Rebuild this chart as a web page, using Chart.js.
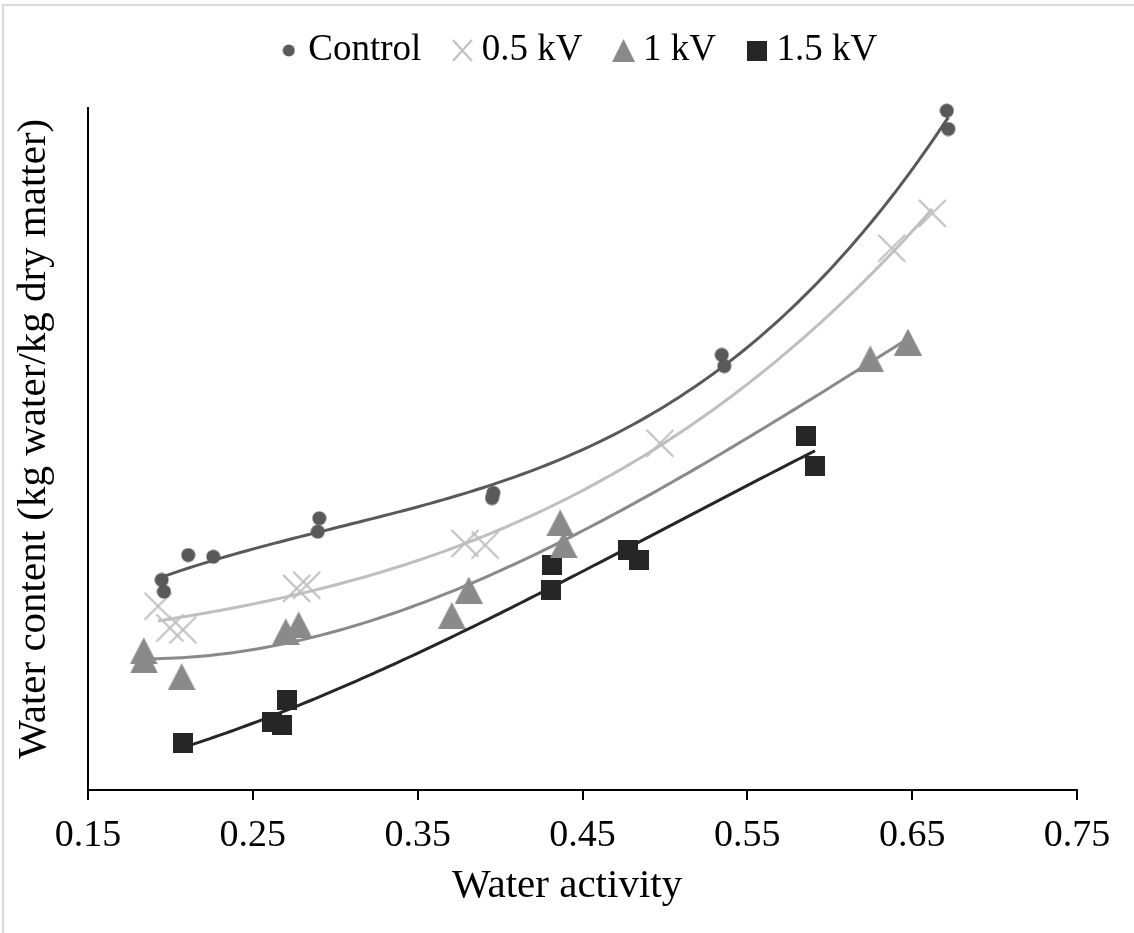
<!DOCTYPE html>
<html>
<head>
<meta charset="utf-8">
<script src="https://cdn.jsdelivr.net/npm/chart.js@4.4.1/dist/chart.umd.min.js"></script>
<style>
  html, body { margin: 0; padding: 0; background: #fff; }
  #wrap { position: relative; width: 1134px; height: 933px; }
</style>
</head>
<body>
<div id="wrap"><canvas id="grafico" width="1134" height="933"></canvas></div>
<script>
// Datos (eje Y sin escala visible, unidades relativas)
const controlX = [0.1947, 0.1961, 0.2108, 0.2260, 0.2894, 0.2903, 0.3951, 0.3959, 0.5345, 0.5360, 0.6710, 0.6719];
const controlY = [0.0770, 0.0727, 0.0861, 0.0855, 0.0947, 0.0996, 0.1070, 0.1089, 0.1595, 0.1554, 0.2490, 0.2423];

const kv05X = [0.1925, 0.1997, 0.2076, 0.2766, 0.2827, 0.3787, 0.3909, 0.4970, 0.6376, 0.6622];
const kv05Y = [0.0674, 0.0594, 0.0587, 0.0739, 0.0751, 0.0904, 0.0898, 0.1271, 0.1986, 0.2114];

const kv1X = [0.1838, 0.1840, 0.2068, 0.2700, 0.2778, 0.3707, 0.3810, 0.4365, 0.4386, 0.6246, 0.6474];
const kv1Y = [0.0510, 0.0477, 0.0415, 0.0580, 0.0605, 0.0639, 0.0733, 0.0979, 0.0899, 0.1580, 0.1642];

const kv15X = [0.2076, 0.2615, 0.2675, 0.2706, 0.4307, 0.4313, 0.4778, 0.4845, 0.5856, 0.5911];
const kv15Y = [0.0172, 0.0250, 0.0238, 0.0330, 0.0733, 0.0825, 0.0880, 0.0843, 0.1299, 0.1188];

const xTicks = [0.15, 0.25, 0.35, 0.45, 0.55, 0.65, 0.75];
const seriesNames = ['Control', '0.5 kV', '1 kV', '1.5 kV'];
const seriesColors = ['#595959', '#bfbfbf', '#8a8a8a', '#262626'];

const FUENTE = "'Liberation Serif', 'Times New Roman', serif";

// Marcadores dibujados en canvas pequeños
function hacerMarcador(tipo, w, h, color) {
  const c = document.createElement('canvas');
  c.width = w; c.height = h;
  const g = c.getContext('2d');
  g.fillStyle = color;
  g.strokeStyle = color;
  if (tipo === 'circle') {
    g.beginPath(); g.arc(w / 2, h / 2, w / 2 - 0.5, 0, Math.PI * 2); g.fill();
  } else if (tipo === 'cross') {
    g.lineWidth = 2;
    g.beginPath();
    g.moveTo(1, 1); g.lineTo(w - 1, h - 1);
    g.moveTo(w - 1, 1); g.lineTo(1, h - 1);
    g.stroke();
  } else if (tipo === 'triangle') {
    g.beginPath(); g.moveTo(w / 2, 0); g.lineTo(w, h); g.lineTo(0, h); g.closePath(); g.fill();
  } else {
    g.fillRect(0, 0, w, h);
  }
  return c;
}

const marcadores = [
  hacerMarcador('circle', 15, 15, seriesColors[0]),
  hacerMarcador('cross', 29, 29, seriesColors[1]),
  hacerMarcador('triangle', 28, 27, seriesColors[2]),
  hacerMarcador('square', 20, 20, seriesColors[3])
];
const marcadoresLeyenda = [
  hacerMarcador('circle', 13, 13, seriesColors[0]),
  hacerMarcador('cross', 21, 23, seriesColors[1]),
  hacerMarcador('triangle', 23, 23, seriesColors[2]),
  hacerMarcador('square', 20, 20, seriesColors[3])
];

// Línea de tendencia polinómica de orden 3 (mínimos cuadrados)
function ajusteCubico(xs, ys) {
  const n = 4;
  const A = Array.from({ length: n }, () => new Array(n + 1).fill(0));
  xs.forEach((x, k) => {
    for (let i = 0; i < n; i++) {
      for (let j = 0; j < n; j++) A[i][j] += Math.pow(x, i + j);
      A[i][n] += ys[k] * Math.pow(x, i);
    }
  });
  for (let i = 0; i < n; i++) {
    let p = i;
    for (let r = i + 1; r < n; r++) if (Math.abs(A[r][i]) > Math.abs(A[p][i])) p = r;
    [A[i], A[p]] = [A[p], A[i]];
    for (let r = 0; r < n; r++) {
      if (r === i) continue;
      const f = A[r][i] / A[i][i];
      for (let c = i; c <= n; c++) A[r][c] -= f * A[i][c];
    }
  }
  return A.map((fila, i) => fila[n] / fila[i]);
}

function tendencia(xs, ys) {
  const coef = ajusteCubico(xs, ys);
  const x0 = Math.min(...xs), x1 = Math.max(...xs);
  const puntos = [];
  for (let i = 0; i <= 120; i++) {
    const x = x0 + (x1 - x0) * i / 120;
    puntos.push({ x, y: coef[0] + coef[1] * x + coef[2] * x * x + coef[3] * x * x * x });
  }
  return puntos;
}

const seriesX = [controlX, kv05X, kv1X, kv15X];
const seriesY = [controlY, kv05Y, kv1Y, kv15Y];

const datasetsPuntos = seriesNames.map((nombre, i) => ({
  label: nombre,
  data: seriesX[i].map((x, k) => ({ x, y: seriesY[i][k] })),
  pointStyle: marcadores[i],
  pointRadius: 10,
  backgroundColor: seriesColors[i],
  borderColor: seriesColors[i],
  showLine: false,
  clip: false,
  order: 1
}));

const datasetsTendencia = seriesNames.map((nombre, i) => ({
  label: nombre + ' (tendencia)',
  data: tendencia(seriesX[i], seriesY[i]),
  showLine: true,
  pointRadius: 0,
  borderColor: seriesColors[i],
  borderWidth: 3,
  fill: false,
  tension: 0,
  clip: false,
  order: 0
}));

// Fondo blanco y marco gris claro
const fondo = {
  id: 'fondo',
  beforeDraw(chart) {
    const ctx = chart.ctx;
    ctx.save();
    ctx.fillStyle = '#fff';
    ctx.fillRect(0, 0, chart.width, chart.height);
    ctx.strokeStyle = '#d9d9d9';
    ctx.lineWidth = 2;
    ctx.beginPath();
    ctx.moveTo(3, chart.height);
    ctx.lineTo(3, 5);
    ctx.lineTo(chart.width, 5);
    ctx.stroke();
    ctx.restore();
  }
};

Chart.defaults.font.family = FUENTE;
Chart.defaults.color = '#000';

// espacios duros para desplazar los títulos de eje como en el original
const NB = '\u00a0';

new Chart(document.getElementById('grafico'), {
  type: 'scatter',
  data: { datasets: [...datasetsTendencia, ...datasetsPuntos] },
  plugins: [fondo],
  options: {
    responsive: false,
    animation: false,
    layout: { padding: { top: -8, right: 57, bottom: 0, left: 0 } },
    plugins: {
      tooltip: { enabled: false },
      title: {
        display: true,
        text: '',
        fullSize: false,
        weight: 500,
        font: { size: 10, lineHeight: 1.2 },
        padding: { top: 0, bottom: 17 }
      },
      legend: {
        fullSize: false,
        labels: {
          usePointStyle: true,
          boxWidth: 2,
          boxHeight: 37,
          padding: 40,
          font: { size: 37 },
          color: '#000',
          generateLabels: () => seriesNames.map((nombre, i) => ({
            text: nombre,
            pointStyle: marcadoresLeyenda[i],
            fillStyle: seriesColors[i],
            strokeStyle: seriesColors[i],
            lineWidth: 0,
            hidden: false,
            datasetIndex: 4 + i,
            fontColor: '#000'
          }))
        }
      }
    },
    scales: {
      x: {
        type: 'linear',
        min: 0.15,
        max: 0.75,
        afterBuildTicks: (s) => { s.ticks = xTicks.map(v => ({ value: v })); },
        afterFit: (s) => { s.height = 143; },
        ticks: {
          padding: 13,
          font: { size: 38 },
          color: '#000',
          callback: (v) => Number(v).toFixed(2)
        },
        grid: {
          display: true,
          drawOnChartArea: false,
          drawTicks: true,
          tickLength: 10,
          color: '#000',
          lineWidth: 2
        },
        border: { display: true, color: '#000', width: 2 },
        title: {
          display: true,
          text: 'Water activity' + NB + NB + NB,
          font: { size: 41 },
          color: '#000',
          padding: { top: 0, bottom: 22 }
        }
      },
      y: {
        type: 'linear',
        min: 0,
        max: 0.25,
        afterFit: (s) => { s.width = 88; },
        ticks: { display: false },
        grid: { display: false },
        border: { display: true, color: '#000', width: 2 },
        title: {
          display: true,
          text: NB + NB + 'Water content (kg water/kg dry matter)',
          font: { size: 41 },
          color: '#000',
          padding: { top: 10, bottom: 0 }
        }
      }
    }
  }
});
</script>
</body>
</html>
